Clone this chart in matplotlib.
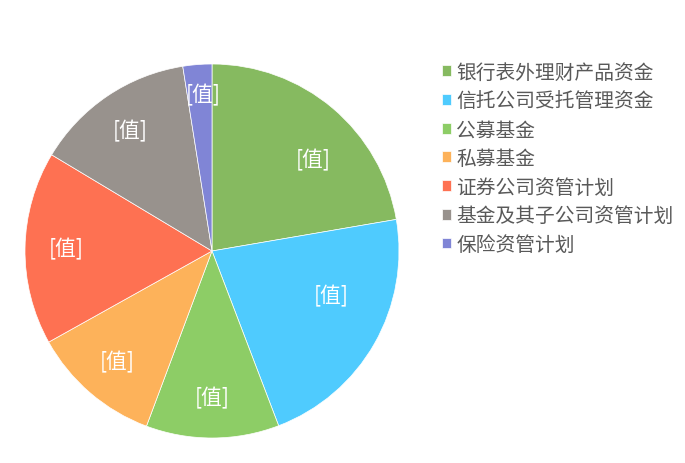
import numpy as np
import matplotlib
matplotlib.use("Agg")
import matplotlib.pyplot as plt

plt.rcParams['font.family'] = ['Noto Sans CJK SC', 'DejaVu Sans']

# 资金来源占比（从图上读出的角度估算，单位 %）
categories = ["银行表外理财产品资金", "信托公司受托管理资金", "公募基金", "私募基金",
              "证券公司资管计划", "基金及其子公司资管计划", "保险资管计划"]
shares = [22.3, 21.9, 11.5, 11.2, 16.7, 13.9, 2.5]
colors = ["#86BA60", "#4FCBFE", "#8DCD66", "#FDB25A", "#FE7152", "#98928D", "#8085D6"]
label_text = "[值]"

fig = plt.figure(figsize=(6.85, 4.64), dpi=100)
W, H = 685, 464
cx, cy, R = 212, 252, 187
ax = fig.add_axes([(cx - R) / W, (H - cy - R) / H, 2 * R / W, 2 * R / H])

wedges, texts, autotexts = ax.pie(
    shares, colors=colors, startangle=90, counterclock=False,
    autopct=lambda p: label_text, pctdistance=0.78,
    wedgeprops=dict(linewidth=0.5, edgecolor="white"),
    textprops=dict(color="white", fontsize=15),
)
ax.set_xlim(-1, 1)
ax.set_ylim(-1, 1)
ax.set_aspect("equal")

# Excel 把部分标签放得偏一点
for i, (ang, r) in {0: (42, 0.73), 1: (-20.6, 0.68), 6: (93.2, 0.84)}.items():
    a = np.deg2rad(ang)
    autotexts[i].set_position((r * np.cos(a), r * np.sin(a)))

fig.legend(wedges, categories, loc="upper left", bbox_to_anchor=(432 / W, 1 - 53 / H),
           frameon=False, fontsize=14.2, labelcolor="#595959",
           handlelength=0.48, handleheight=0.48, handletextpad=0.25,
           labelspacing=0.39, borderpad=0)

fig.savefig("out.png", dpi=100)
